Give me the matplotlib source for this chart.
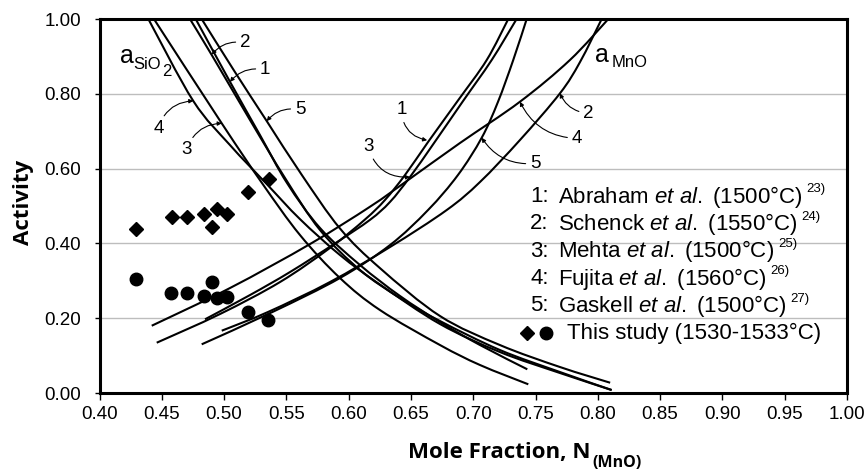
import matplotlib
matplotlib.use("Agg")
from matplotlib import pyplot as plt
from matplotlib.path import Path
from matplotlib.patches import PathPatch
from matplotlib.ticker import FormatStrFormatter

# a_SiO2 curves (activity falls as N_MnO rises)
sio2_1_x = [0.4772, 0.5047, 0.5288, 0.5505, 0.5770, 0.6091, 0.6412, 0.6733, 0.7054, 0.7434]
sio2_1_y = [1.000, 0.8324, 0.6898, 0.5615, 0.4412, 0.3422, 0.2594, 0.1898, 0.1283, 0.0634]

sio2_2_x = [0.4726, 0.4901, 0.5208, 0.5489, 0.5770, 0.6091, 0.6412, 0.6733, 0.7214, 0.7696, 0.8111]
sio2_2_y = [1.000, 0.9037, 0.7299, 0.5749, 0.4358, 0.3289, 0.2540, 0.1925, 0.1150, 0.0561, 0.0080]

sio2_3_x = [0.4437, 0.4981, 0.5304, 0.5609, 0.5930, 0.6251, 0.6733, 0.7054, 0.7442]
sio2_3_y = [1.000, 0.7211, 0.5615, 0.4225, 0.3075, 0.2219, 0.1283, 0.0749, 0.0233]

sio2_4_x = [0.4392, 0.4753, 0.5047, 0.5342, 0.5609, 0.5930, 0.6251, 0.6733, 0.7214, 0.7696, 0.8111]
sio2_4_y = [1.000, 0.7807, 0.6631, 0.5588, 0.4650, 0.3690, 0.2900, 0.1845, 0.1096, 0.0535, 0.0080]

sio2_5_x = [0.4820, 0.5080, 0.5342, 0.5620, 0.5930, 0.6251, 0.6733, 0.7214, 0.7696, 0.8099]
sio2_5_y = [1.000, 0.8620, 0.7273, 0.5850, 0.4400, 0.3340, 0.2059, 0.1283, 0.0695, 0.0275]

# a_MnO curves
mno_1_x = [0.4459, 0.4967, 0.5449, 0.5850, 0.6131, 0.6291, 0.6452, 0.6637, 0.6880, 0.7108, 0.7281]
mno_1_y = [0.1345, 0.2112, 0.2968, 0.3880, 0.4640, 0.5160, 0.5829, 0.6711, 0.7834, 0.8904, 1.000]

mno_2_x = [0.4981, 0.5352, 0.5850, 0.6332, 0.6787, 0.7054, 0.7375, 0.7696, 0.7857, 0.8031]
mno_2_y = [0.1666, 0.2166, 0.2968, 0.3904, 0.4893, 0.5642, 0.6765, 0.8013, 0.8850, 1.000]

mno_3_x = [0.4847, 0.5208, 0.5529, 0.5890, 0.6171, 0.6331, 0.6492, 0.6685, 0.6918, 0.7148, 0.7348]
mno_3_y = [0.1971, 0.2620, 0.3235, 0.4000, 0.4630, 0.5107, 0.5775, 0.6684, 0.7807, 0.8904, 1.000]

mno_4_x = [0.4419, 0.5047, 0.5690, 0.6171, 0.6466, 0.6893, 0.7375, 0.7776, 0.8084]
mno_4_y = [0.1799, 0.2807, 0.3984, 0.4981, 0.5668, 0.6684, 0.7789, 0.8904, 1.000]

mno_5_x = [0.4820, 0.5393, 0.5930, 0.6332, 0.6637, 0.6877, 0.7068, 0.7198, 0.7321, 0.7429]
mno_5_y = [0.1302, 0.2174, 0.3075, 0.3957, 0.4893, 0.5829, 0.6826, 0.7781, 0.8904, 1.000]

# measured points, this study
sio2_meas_x = [0.429, 0.458, 0.4705, 0.484, 0.490, 0.494, 0.502, 0.519, 0.536]
sio2_meas_y = [0.438, 0.471, 0.471, 0.479, 0.443, 0.491, 0.480, 0.538, 0.571]
mno_meas_x = [0.429, 0.457, 0.470, 0.484, 0.490, 0.494, 0.502, 0.519, 0.5355]
mno_meas_y = [0.304, 0.267, 0.267, 0.259, 0.297, 0.253, 0.258, 0.216, 0.195]

x_ticks = [0.40, 0.45, 0.50, 0.55, 0.60, 0.65, 0.70, 0.75, 0.80, 0.85, 0.90, 0.95, 1.00]
y_ticks = [0.00, 0.20, 0.40, 0.60, 0.80, 1.00]

sources = ["Abraham", "Schenck", "Mehta", "Fujita", "Gaskell"]
temps = ["1500", "1550", "1500", "1560", "1500"]
refs = ["23)", "24)", "25)", "26)", "27)"]

curves = [
    (sio2_1_x, sio2_1_y), (sio2_2_x, sio2_2_y), (sio2_3_x, sio2_3_y),
    (sio2_4_x, sio2_4_y), (sio2_5_x, sio2_5_y),
    (mno_1_x, mno_1_y), (mno_2_x, mno_2_y), (mno_3_x, mno_3_y),
    (mno_4_x, mno_4_y), (mno_5_x, mno_5_y),
]

# number tags: text, text position, arrow tip, arc bend
tags = [
    ("2", (0.5168, 0.936), (0.4901, 0.905), 0.3),
    ("1", (0.5328, 0.864), (0.5047, 0.832), 0.3),
    ("5", (0.5609, 0.757), (0.5342, 0.727), 0.3),
    ("4", (0.4472, 0.708), (0.4753, 0.781), -0.35),
    ("3", (0.4700, 0.650), (0.4981, 0.721), -0.35),
    ("1", (0.6425, 0.757), (0.6630, 0.676), 0.4),
    ("3", (0.6157, 0.659), (0.6492, 0.5775), 0.4),
    ("5", (0.7496, 0.614), (0.7068, 0.6826), -0.3),
    ("4", (0.7830, 0.681), (0.7375, 0.7789), -0.3),
    ("2", (0.7923, 0.748), (0.7696, 0.8013), -0.3),
]


def smooth_path(xs, ys):
    # Catmull-Rom through the points, written as cubic Bezier segments
    pts = list(zip(xs, ys))
    verts = [pts[0]]
    codes = [Path.MOVETO]
    n = len(pts)
    for i in range(n - 1):
        p0 = pts[i - 1] if i > 0 else pts[i]
        p1 = pts[i]
        p2 = pts[i + 1]
        p3 = pts[i + 2] if i + 2 < n else pts[i + 1]
        c1 = (p1[0] + (p2[0] - p0[0]) / 6, p1[1] + (p2[1] - p0[1]) / 6)
        c2 = (p2[0] - (p3[0] - p1[0]) / 6, p2[1] - (p3[1] - p1[1]) / 6)
        verts += [c1, c2, p2]
        codes += [Path.CURVE4] * 3
    return Path(verts, codes)


plt.rcParams['font.family'] = ['Liberation Sans', 'DejaVu Sans']
plt.rcParams['mathtext.fontset'] = 'custom'
plt.rcParams['mathtext.rm'] = 'Liberation Sans'
plt.rcParams['mathtext.it'] = 'Liberation Sans:italic'
plt.rcParams['mathtext.bf'] = 'Liberation Sans:bold'

fig = plt.figure(figsize=(8.67, 4.70), dpi=100)
ax = fig.add_axes([0.1148, 0.1638, 0.8621, 0.7957])

for xs, ys in curves:
    ax.add_patch(PathPatch(smooth_path(xs, ys), fill=False, edgecolor='black', lw=1.5))

ax.plot(sio2_meas_x, sio2_meas_y, 'D', color='black', ms=7.5, ls='none')
ax.plot(mno_meas_x, mno_meas_y, 'o', color='black', ms=9, ls='none')

ax.set_xlim(0.40, 1.00)
ax.set_ylim(0.0, 1.0)
ax.set_xticks(x_ticks)
ax.set_yticks(y_ticks)
ax.xaxis.set_major_formatter(FormatStrFormatter('%.2f'))
ax.yaxis.set_major_formatter(FormatStrFormatter('%.2f'))
ax.tick_params(axis='x', direction='out', length=5, width=1, labelsize=13.5, pad=4)
ax.tick_params(axis='y', direction='out', length=3.5, width=1, labelsize=13.5, pad=10)
ax.grid(axis='y', color='#bdbdbd', lw=1)
ax.set_axisbelow(True)
for sp in ax.spines.values():
    sp.set_linewidth(2.2)

for tag, txy, tip, rad in tags:
    ax.annotate(tag, xy=tip, xytext=txy, ha='center', va='center', fontsize=13.5,
                arrowprops=dict(arrowstyle='-|>', color='black', lw=0.8, mutation_scale=6,
                                connectionstyle=f'arc3,rad={rad}', shrinkA=1, shrinkB=0))

# activity symbols
ax.text(0.4165, 0.8816, "a", fontsize=18, va='baseline')
ax.text(0.4271, 0.866, "SiO", fontsize=12, va='baseline')
ax.text(0.4502, 0.848, "2", fontsize=12, va='baseline')
ax.text(0.7979, 0.886, "a", fontsize=18, va='baseline')
ax.text(0.8111, 0.8725, "MnO", fontsize=12, va='baseline')

# reference list
row_y = [0.525, 0.452, 0.379, 0.306, 0.233]
for i, (name, t, ref) in enumerate(zip(sources, temps, refs)):
    ax.text(0.7456, row_y[i], f"{i + 1}:", fontsize=16, va='center')
    txt = ax.text(0.768, row_y[i], name + r" $\mathit{et\ al.}$ (" + t + "°C)",
                  fontsize=16, va='center')
    ax.annotate(ref, xy=(1, 0.55), xycoords=txt, xytext=(3, 0),
                textcoords='offset points', fontsize=9.5, va='bottom')

ax.plot([0.7429], [0.160], 'D', color='black', ms=7)
ax.plot([0.7581], [0.160], 'o', color='black', ms=9)
ax.text(0.775, 0.160, "This study (1530-1533°C)", fontsize=16, va='center')

fig.text(23 / 867, 1 - 202 / 470, "Activity", rotation=90, ha='center', va='center',
         fontsize=16, fontweight='bold', family='Open Sans')
fig.text(408 / 867, 1 - 458 / 470, "Mole Fraction, N", ha='left', va='baseline',
         fontsize=16, fontweight='bold', family='Open Sans')
fig.text(592 / 867, 1 - 467 / 470, "(MnO)", ha='left', va='baseline',
         fontsize=11.5, fontweight='bold', family='Open Sans')

fig.savefig("out.png", dpi=100)
plt.close(fig)
